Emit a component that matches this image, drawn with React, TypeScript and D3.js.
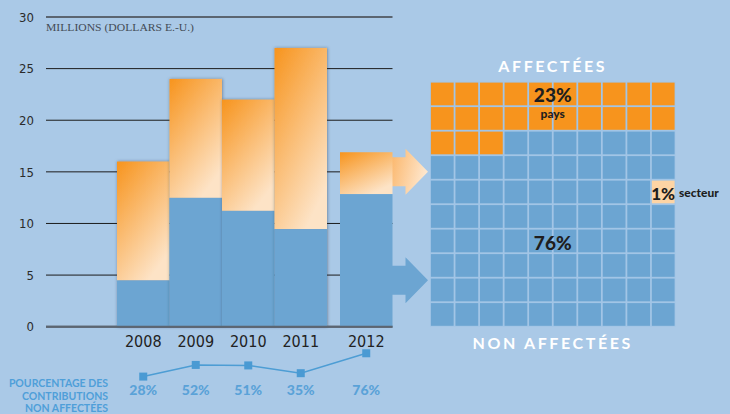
import React, { useRef, useEffect } from 'react';
import * as d3 from 'd3';

// chart data
const years = ['2008', '2009', '2010', '2011', '2012'];
const totals = [16, 24, 22, 27, 16.9];
const unassignedPct = [28, 52, 51, 35, 76];
const yTicks = [0, 5, 10, 15, 20, 25, 30];

// waffle for the last year (share of 100 cells)
const waffleParts = [
  { key: 'pays', value: 23 },
  { key: 'secteur', value: 1 },
  { key: 'non', value: 76 },
];
const arrowLevels = [15, 4.5];

const BG = '#aac9e7';
const BLUE = '#6ca5d2';
const ORANGE = '#f7941d';
const PEACH = '#fde3c6';
const LINE_BLUE = '#4d9dd4';
const GEO = 'Lato, "DejaVu Sans", sans-serif';
const NARROW = '"Liberation Sans Narrow", "DejaVu Sans Condensed", "Roboto Condensed", sans-serif';

function App() {
  const svgRef = useRef(null);

  useEffect(() => {
    const width = 730;
    const height = 414;
    const svg = d3.select(svgRef.current);
    svg.selectAll('*').remove();
    svg.attr('width', width).attr('height', height);

    const defs = svg.append('defs');
    const grad = defs.append('linearGradient')
      .attr('id', 'orangeGrad')
      .attr('x1', 0).attr('y1', 0).attr('x2', 0.6).attr('y2', 1);
    grad.append('stop').attr('offset', '0%').attr('stop-color', ORANGE);
    grad.append('stop').attr('offset', '100%').attr('stop-color', PEACH);

    const arrowGrad = defs.append('linearGradient')
      .attr('id', 'arrowGrad')
      .attr('x1', 0).attr('y1', 0).attr('x2', 1).attr('y2', 0.3);
    arrowGrad.append('stop').attr('offset', '0%').attr('stop-color', '#fbb466');
    arrowGrad.append('stop').attr('offset', '100%').attr('stop-color', '#fee6cc');

    const shadow = defs.append('filter').attr('id', 'shadow')
      .attr('x', '-20%').attr('y', '-10%').attr('width', '140%').attr('height', '120%');
    shadow.append('feDropShadow')
      .attr('dx', 0.5).attr('dy', 0).attr('stdDeviation', 1.6)
      .attr('flood-color', '#1f2f40').attr('flood-opacity', 0.5);

    svg.append('rect').attr('width', width).attr('height', height).attr('fill', BG);

    // scales
    const yScale = d3.scaleLinear().domain([0, 30]).range([326.7, 17]);
    const xBand = d3.scaleBand().domain(years).range([117, 379.5]).padding(0);
    const lastGap = 13;
    const xPos = (y) => xBand(y) + (y === '2012' ? lastGap : 0);
    const bw = xBand.bandwidth();
    const gridLeft = 46;
    const gridRight = 392.5;

    // gridlines
    yTicks.forEach(t => {
      const heavy = t === 0 || t === 30;
      svg.append('line')
        .attr('x1', gridLeft).attr('x2', gridRight)
        .attr('y1', yScale(t)).attr('y2', yScale(t))
        .attr('stroke', heavy ? '#5b6571' : '#1c1c1c')
        .attr('stroke-width', heavy ? 2 : 1);
      svg.append('text')
        .attr('x', 34).attr('y', yScale(t))
        .attr('dy', '0.36em')
        .attr('text-anchor', 'end')
        .style('font-family', NARROW)
        .style('font-stretch', 'condensed')
        .style('font-size', '13px')
        .attr('fill', '#2b2b2b')
        .text(t);
    });

    svg.append('text')
      .attr('x', gridLeft).attr('y', 31)
      .style('font-family', '"Liberation Serif", serif')
      .style('font-size', '11px')
      .attr('fill', '#444c56')
      .attr('textLength', 148)
      .attr('lengthAdjust', 'spacingAndGlyphs')
      .text('MILLIONS (DOLLARS E.-U.)');

    // arrows from the 2012 bar to the waffle
    const waffleX = d3.scaleBand().domain(d3.range(10)).range([430, 675.5]);
    const waffleY = d3.scaleBand().domain(d3.range(10)).range([81.7, 326.7]);
    const arrowStart = xPos('2012') + bw;
    const arrowTip = waffleX(0) - 2;
    const shaftEnd = arrowStart + 13;
    arrowLevels.forEach((lvl, i) => {
      const cy = yScale(lvl);
      const p = d3.path();
      p.moveTo(arrowStart - 2, cy - 14.5);
      p.lineTo(shaftEnd, cy - 14.5);
      p.lineTo(shaftEnd, cy - 23);
      p.lineTo(arrowTip, cy);
      p.lineTo(shaftEnd, cy + 23);
      p.lineTo(shaftEnd, cy + 14.5);
      p.lineTo(arrowStart - 2, cy + 14.5);
      p.closePath();
      svg.append('path')
        .attr('d', p.toString())
        .attr('fill', i === 0 ? 'url(#arrowGrad)' : BLUE);
    });

    // stacked bars
    years.forEach((yr, i) => {
      const total = totals[i];
      const blue = total * unassignedPct[i] / 100;
      const g = svg.append('g').attr('filter', yr === '2012' ? null : 'url(#shadow)');
      g.append('rect')
        .attr('x', xPos(yr)).attr('width', bw)
        .attr('y', yScale(total))
        .attr('height', yScale(blue) - yScale(total))
        .attr('fill', 'url(#orangeGrad)');
      g.append('rect')
        .attr('x', xPos(yr)).attr('width', bw)
        .attr('y', yScale(blue))
        .attr('height', yScale(0) - yScale(blue))
        .attr('fill', BLUE);
    });

    // redraw base line over bars
    svg.append('line')
      .attr('x1', gridLeft).attr('x2', gridRight)
      .attr('y1', yScale(0)).attr('y2', yScale(0))
      .attr('stroke', '#5b6571').attr('stroke-width', 2);

    // year labels
    years.forEach(yr => {
      svg.append('text')
        .attr('x', xPos(yr) + bw / 2).attr('y', 347)
        .attr('text-anchor', 'middle')
        .style('font-family', NARROW)
        .style('font-stretch', 'condensed')
        .style('font-size', '16px')
        .attr('fill', '#222')
        .text(yr);
    });

    // percentage line
    const pctScale = d3.scaleLinear().domain([0, 100]).range([390.2, 341.6]);
    const line = d3.line()
      .x((d, i) => xPos(years[i]) + bw / 2)
      .y(d => pctScale(d));
    svg.append('path')
      .datum(unassignedPct)
      .attr('d', line)
      .attr('fill', 'none')
      .attr('stroke', LINE_BLUE)
      .attr('stroke-width', 1.5);
    unassignedPct.forEach((v, i) => {
      const cx = xPos(years[i]) + bw / 2;
      svg.append('rect')
        .attr('x', cx - 4).attr('y', pctScale(v) - 4)
        .attr('width', 8).attr('height', 8)
        .attr('fill', '#4a9ad3');
      svg.append('text')
        .attr('x', cx).attr('y', 395)
        .attr('text-anchor', 'middle')
        .style('font-family', GEO)
        .style('font-weight', 900)
        .style('font-size', '14px')
        .attr('fill', '#5aa2d8')
        .text(v + '%');
    });

    ['POURCENTAGE DES', 'CONTRIBUTIONS', 'NON AFFECTÉES'].forEach((t, i) => {
      svg.append('text')
        .attr('x', 108).attr('y', 387 + i * 12.6)
        .attr('text-anchor', 'end')
        .style('font-family', GEO)
        .style('font-weight', 700)
        .style('font-size', '10.5px')
        .attr('fill', '#4f9fd9')
        .text(t);
    });

    // waffle
    const cells = [];
    waffleParts.forEach(p => {
      for (let k = 0; k < p.value; k++) cells.push(p.key);
    });
    // the single "secteur" cell sits at the end of row 5
    const order = cells.filter(c => c !== 'secteur');
    const secteurIndex = 49;
    order.splice(secteurIndex, 0, 'secteur');
    const cellColor = { pays: ORANGE, secteur: '#fdd4a4', non: BLUE };
    svg.append('rect')
      .attr('x', waffleX(0)).attr('y', waffleY(0))
      .attr('width', waffleX.step() * 10).attr('height', waffleY.step() * 10)
      .attr('fill', '#a2c5e6');
    order.forEach((c, idx) => {
      const col = idx % 10;
      const row = Math.floor(idx / 10);
      svg.append('rect')
        .attr('x', waffleX(col) + 0.9)
        .attr('y', waffleY(row) + 0.9)
        .attr('width', waffleX.bandwidth() - 1.8)
        .attr('height', waffleY.bandwidth() - 1.8)
        .attr('fill', cellColor[c]);
    });

    const wMid = (waffleX(0) + waffleX(9) + waffleX.bandwidth()) / 2;
    svg.append('text')
      .attr('x', wMid).attr('y', 71.5)
      .attr('text-anchor', 'middle')
      .style('font-family', GEO).style('font-weight', 700)
      .style('font-size', '16px').style('letter-spacing', '2.6px')
      .attr('fill', '#fff')
      .text('AFFECTÉES');
    svg.append('text')
      .attr('x', wMid).attr('y', 349)
      .attr('text-anchor', 'middle')
      .style('font-family', GEO).style('font-weight', 700)
      .style('font-size', '16px').style('letter-spacing', '2.6px')
      .attr('fill', '#fff')
      .text('NON AFFECTÉES');

    const label = (x, y, txt, size, anchor = 'middle') => svg.append('text')
      .attr('x', x).attr('y', y)
      .attr('text-anchor', anchor)
      .style('font-family', GEO).style('font-weight', 900)
      .style('font-size', size + 'px')
      .attr('fill', '#1e1e1e')
      .text(txt);
    label(wMid, 101.5, '23%', 19);
    label(wMid, 118, 'pays', 12);
    label(wMid, 250, '76%', 19);
    label(waffleX(9) + waffleX.bandwidth() / 2, 199.5, '1%', 17);
    label(679, 197, 'secteur', 12, 'start');
  }, []);

  return (
    <div style={{ position: 'absolute', left: 0, top: 0 }}>
      <svg ref={svgRef} style={{ display: 'block' }}></svg>
    </div>
  );
}

export default App;
